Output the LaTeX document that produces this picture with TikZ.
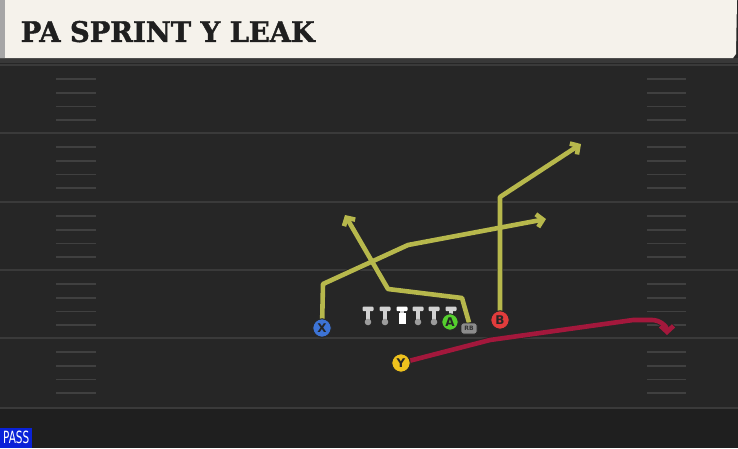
\documentclass[tikz,border=0pt]{standalone}
\usepackage{fontspec}
\setmainfont{DejaVu Sans}[BoldFont={DejaVu Sans Bold}]
\newfontfamily\titlefont{DejaVu Serif Bold}[FakeBold=1.5]
\newfontfamily\passfont{DejaVu Sans Condensed}
\usetikzlibrary{arrows.meta}
\definecolor{fieldbg}{HTML}{262626}
\definecolor{lowbg}{HTML}{1F1F1F}
\definecolor{fline}{HTML}{3A3A3A}
\definecolor{hashc}{HTML}{404040}
\definecolor{beige}{HTML}{F5F2EB}
\definecolor{routey}{HTML}{B7B84C}
\definecolor{router}{HTML}{A3183C}
\definecolor{xblue}{HTML}{3D74D6}
\definecolor{agreen}{HTML}{55CF2E}
\definecolor{bred}{HTML}{E23C3C}
\definecolor{yyellow}{HTML}{EFC21D}
\definecolor{passblue}{HTML}{0A22D8}
\definecolor{tbar}{HTML}{D2D2D2}
\definecolor{tball}{HTML}{9C9C9C}
\definecolor{rbgray}{HTML}{8C8C8C}
\pgfdeclarelayer{bg}
\pgfdeclarelayer{routes}
\pgfsetlayers{bg,routes,main}
\tikzset{
  player/.style={circle, draw=black!85, line width=1pt, minimum size=18.5pt, inner sep=0pt,
    font=\bfseries\fontsize{12}{12}\selectfont, text=black!85},
  routeout/.style={line width=6.4pt, draw=black!85, line join=round,
    -{Straight Barb[length=6pt,width=13pt]}},
  routein/.style={line width=4.6pt, line join=round,
    -{Straight Barb[length=6pt,width=13pt]}},
  fieldline/.style={draw=fline, line width=1.8pt},
  hashmark/.style={draw=hashc, line width=1.8pt},
  rbtag/.style={draw=black!85, line width=0.7pt, fill=rbgray, rounded corners=2.5pt,
    minimum width=16pt, minimum height=11pt, inner sep=0pt,
    font=\bfseries\fontsize{6}{6}\selectfont, text=black!80},
}
\begin{document}
\begin{tikzpicture}[x=1pt,y=-1pt]
\useasboundingbox (0,0) rectangle (738,448);
\begin{pgfonlayer}{bg}
  % field
  \fill[fieldbg] (0,0) rectangle (738,448);
  \fill[lowbg] (0,409) rectangle (738,448);
  \fill[black!78] (0,58) rectangle (738,63);
  % yard lines
  \foreach \yy in {65,133,202,270,338,408}
    \draw[fieldline] (0,\yy) -- (738,\yy);
  % hash marks
  \foreach \yy in {65,133,202,270,338}
    \foreach \k in {1,2,3,4} {
      \draw[hashmark] (56,{\yy+13.8*\k}) -- (96,{\yy+13.8*\k});
      \draw[hashmark] (647,{\yy+13.8*\k}) -- (686,{\yy+13.8*\k});
    }
  % header
  \fill[beige] (0,0) -- (737,0) -- (736,54) -- (733,58) -- (0,58) -- cycle;
  \fill[gray!70] (0,0) rectangle (4.5,58);
  \node[anchor=south west, inner sep=0pt, text=black!88] (title) at (20.5,42.5)
    {\resizebox{294pt}{21pt}{\titlefont PA SPRINT Y LEAK}};
  % linemen
  \foreach \xx in {368,385,418,434,451} {
    \fill[tbar, rounded corners=1pt] (\xx-5.5,306.5) rectangle (\xx+5.5,311);
    \fill[tbar] (\xx-2.4,310.5) rectangle (\xx+2.4,320);
    \fill[tball] (\xx,322) circle (3.3);
  }
  \fill[white, rounded corners=1pt] (396.5,306.5) rectangle (407.5,311);
  \fill[tbar] (399.6,310.5) rectangle (404.4,313);
  \fill[white] (398.5,313) rectangle (405.5,324);
\end{pgfonlayer}

% players
\node[player, fill=xblue] (X) at (322,328) {X};
\node[player, fill=agreen, minimum size=16.5pt] (A) at (450,322) {A};
\node[player, fill=bred] (B) at (500,320) {B};
\node[player, fill=yyellow] (Y) at (401,363) {Y};
\node[rbtag] (RB) at (469,328.5) {RB};

% route waypoints
\coordinate (x1) at (323,284);
\coordinate (x2) at (408,245);
\coordinate (x3) at (546,219);
\coordinate (a1) at (462,298);
\coordinate (a2) at (388,289);
\coordinate (a3) at (345,215);
\coordinate (b1) at (500,197);
\coordinate (b2) at (581,144);
\coordinate (y1) at (490,340);
\coordinate (y2) at (633,320);
\coordinate (y3) at (652,320);
\coordinate (y4) at (667,335);

\begin{pgfonlayer}{routes}
  \foreach \st/\col in {routeout/black!85, routein/routey} {
    \draw[\st, draw=\col] (X.center) -- (x1) -- (x2) -- (x3);
    \draw[\st, draw=\col] (RB.north) -- (a1) -- (a2) -- (a3);
    \draw[\st, draw=\col] (B.center) -- (b1) -- (b2);
  }
  \draw[routeout] (Y.center) -- (y1) -- (y2) -- (y3) to[out=0,in=90] (y4);
  \draw[routein, draw=router] (Y.center) -- (y1) -- (y2) -- (y3) to[out=0,in=90] (y4);
\end{pgfonlayer}

% pass label
\node[fill=passblue, anchor=south west, minimum width=32pt, minimum height=20pt, inner sep=0pt,
  text=white] (pass) at (0,448) {\resizebox{26pt}{12.5pt}{\passfont PASS}};
\end{tikzpicture}
\end{document}
